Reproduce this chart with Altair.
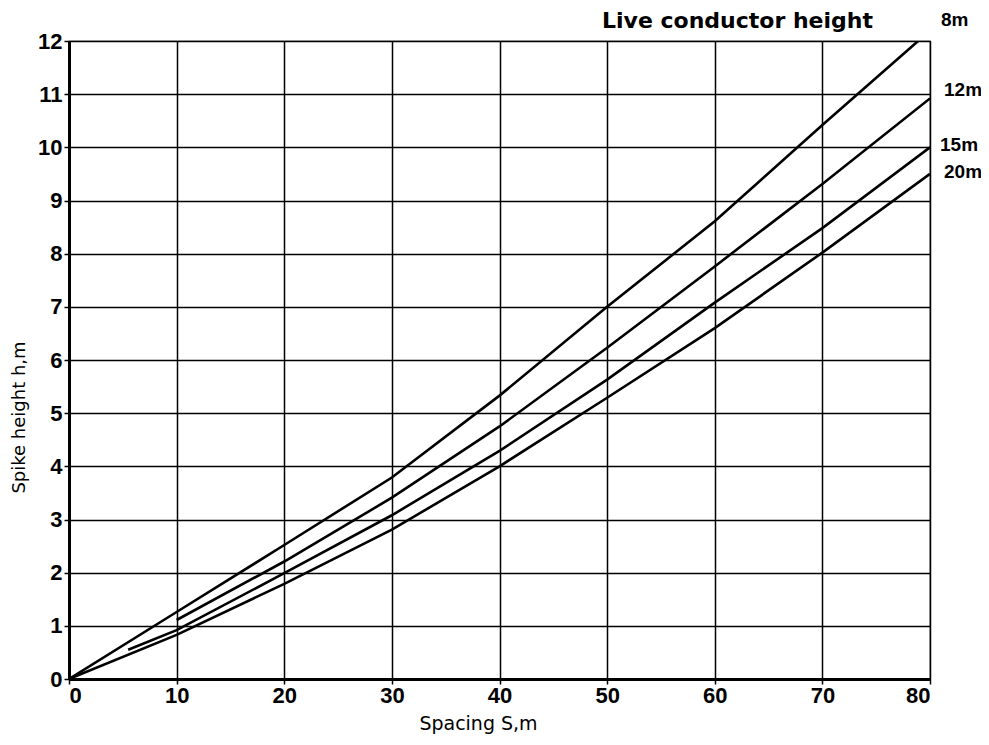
import altair as alt
import pandas as pd

# Spacing S (m) and spike height h (m) for each live conductor height
s_8 = [0, 10, 20, 30, 40, 50, 60, 70, 78.9]
h_8 = [0, 1.26, 2.52, 3.79, 5.33, 7.0, 8.61, 10.42, 12.0]
s_12 = [10, 20, 30, 40, 50, 60, 70, 80]
h_12 = [1.11, 2.21, 3.41, 4.75, 6.23, 7.76, 9.31, 10.92]
s_15 = [5.5, 10, 20, 30, 40, 50, 60, 70, 80]
h_15 = [0.55, 0.92, 1.99, 3.08, 4.29, 5.63, 7.08, 8.48, 10.0]
s_20 = [0, 10, 20, 30, 40, 50, 60, 70, 80]
h_20 = [0, 0.83, 1.79, 2.81, 4.0, 5.29, 6.60, 8.02, 9.50]

series_names = ["8m", "12m", "15m", "20m"]
x_ticks = [0, 10, 20, 30, 40, 50, 60, 70, 80]
y_ticks = list(range(0, 13))

rows = []
for name, xs, ys in zip(series_names, [s_8, s_12, s_15, s_20], [h_8, h_12, h_15, h_20]):
    for i, (a, b) in enumerate(zip(xs, ys)):
        rows.append({"series": name, "S": a, "h": b, "order": i})
df = pd.DataFrame(rows)

TICK_FONT = "Liberation Sans"
ANN_FONT = "DejaVu Sans"

x_enc = alt.X(
    "S:Q",
    scale=alt.Scale(domain=[0, 80], nice=False, zero=False),
    axis=alt.Axis(values=x_ticks, title="Spacing S,m", titleFontSize=19,
                  titleFont=ANN_FONT, titleFontWeight="normal", titlePadding=8,
                  titleX=409, titleAlign="center"),
)
y_enc = alt.Y(
    "h:Q",
    scale=alt.Scale(domain=[0, 12], nice=False),
    axis=alt.Axis(values=y_ticks, title="Spike height h,m", titleFontSize=18,
                  titleFont=ANN_FONT, titleFontWeight="normal",
                  titleX=-41, titleY=376, titleAlign="center", titleAngle=270),
)

lines = alt.Chart(df).mark_line(color="black", strokeWidth=2.6, clip=True).encode(
    x=x_enc, y=y_enc, detail="series:N", order="order:Q"
)

def ann(txt, px, py, align="left", font=TICK_FONT, size=19, baseline="middle"):
    return alt.Chart(pd.DataFrame({"t": [txt]})).mark_text(
        font=font, fontSize=size, fontWeight="bold", align=align,
        baseline=baseline, color="black"
    ).encode(text="t:N", x=alt.value(px), y=alt.value(py))

annotations = (
    ann("Live conductor height", 804, -13, "right", ANN_FONT, 22, "alphabetic")
    + ann("8m", 872, -21)
    + ann("12m", 875, 49)
    + ann("15m", 871, 104)
    + ann("20m", 875, 131)
)

chart = (lines + annotations).properties(
    width=861, height=638,
    padding={"left": 61, "top": 33, "right": 51, "bottom": 58},
    autosize=alt.AutoSizeParams(type="none"),
).configure_view(
    stroke="black", strokeWidth=1.2
).configure_axis(
    grid=True, gridColor="black", gridOpacity=1, gridWidth=1.5,
    domainColor="black", domainWidth=3,
    tickColor="black", tickSize=5, tickWidth=1.5,
    labelFont=TICK_FONT, labelFontSize=22, labelFontWeight="bold",
    labelColor="black", titleColor="black",
).configure_axisX(
    labelPadding=1
).configure_axisY(
    labelPadding=2
)

chart.save("out.html", embed_options={"renderer": "svg", "actions": False})
